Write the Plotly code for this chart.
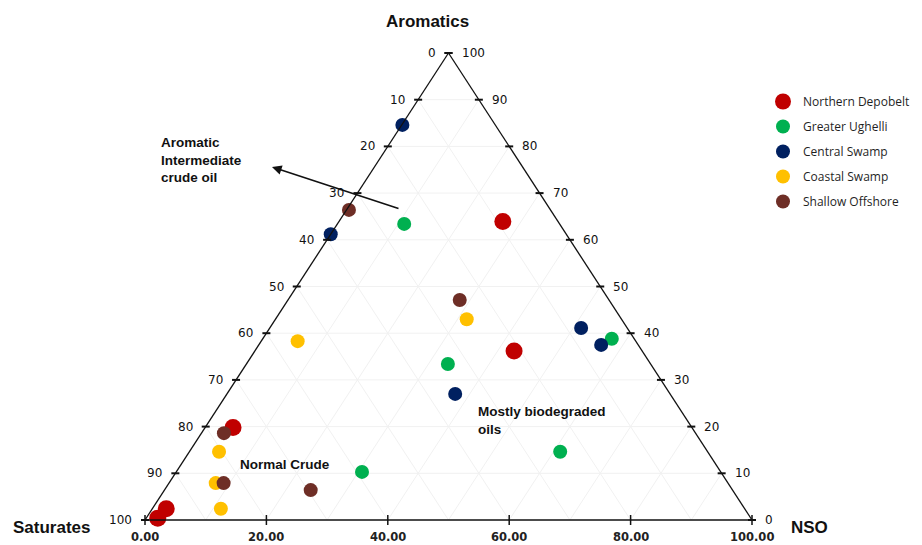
import plotly.graph_objects as go

# ---- data: composition (%) of each oil sample ----
groups = ["Northern Depobelt", "Greater Ughelli", "Central Swamp", "Coastal Swamp", "Shallow Offshore"]

nd_aromatics = [63.9, 36.2, 19.8, 2.4, 0.4]
nd_saturates = [9.1, 21.1, 75.6, 95.3, 97.7]
nd_nso = [27.0, 42.7, 4.6, 2.3, 1.9]

gu_aromatics = [63.4, 33.4, 38.8, 14.6, 10.3]
gu_saturates = [25.6, 33.4, 3.7, 24.3, 59.1]
gu_nso = [11.0, 33.2, 57.5, 61.1, 30.6]

cs_aromatics = [84.6, 61.2, 41.1, 37.5, 27.0]
cs_saturates = [15.3, 38.8, 7.6, 6.1, 35.4]
cs_nso = [0.1, 0.0, 51.3, 56.4, 37.6]

co_aromatics = [38.3, 43.0, 14.6, 7.9, 2.4]
co_saturates = [55.7, 25.5, 80.5, 84.4, 86.3]
co_nso = [6.0, 31.5, 4.9, 7.7, 11.3]

so_aromatics = [66.4, 47.1, 18.6, 7.9, 6.4]
so_saturates = [33.2, 24.6, 77.7, 83.1, 69.5]
so_nso = [0.4, 28.3, 3.7, 9.0, 24.1]

edge_ticks = list(range(0, 101, 10))
bottom_ticks = list(range(0, 101, 20))
grid_levels = list(range(10, 100, 10))

colors = ["#c00000", "#00b050", "#002060", "#ffc000", "#6e2e26"]
sizes = [17, 14, 14, 14, 14]

# ---- geometry (figure pixels) ----
W, H = 922, 545
X0, X1 = 145, 752      # base of triangle in pixels
YB, YT = 520, 53       # base / apex in pixels
sx = (X1 - X0) / 100.0
sy = (YB - YT) / 100.0


def px2x(px):
    return (px - X0) / sx


def py2y(py):
    return (YB - py) / sy


def tern(a, s, n):
    t = a + s + n
    return 100 * (n / t + 0.5 * a / t), 100 * a / t


fig = go.Figure()

series = [
    (nd_aromatics, nd_saturates, nd_nso),
    (gu_aromatics, gu_saturates, gu_nso),
    (cs_aromatics, cs_saturates, cs_nso),
    (co_aromatics, co_saturates, co_nso),
    (so_aromatics, so_saturates, so_nso),
]

for i, (name, (A, S, N)) in enumerate(zip(groups, series)):
    pts = [tern(a, s, n) for a, s, n in zip(A, S, N)]
    fig.add_trace(go.Scatter(
        x=[p[0] for p in pts], y=[p[1] for p in pts],
        mode="markers", name=name, legendgroup=name,
        marker=dict(color=colors[i], size=sizes[i], line=dict(width=0)),
        cliponaxis=False,
        hovertemplate=name + "<extra></extra>",
    ))

shapes = []
# faint grid
for k in grid_levels:
    for (x0, y0), (x1, y1) in [
        ((k / 2, k), (100 - k / 2, k)),
        ((k, 0), (k + (100 - k) / 2, 100 - k)),
        ((100 - k, 0), ((100 - k) / 2, 100 - k)),
    ]:
        shapes.append(dict(type="line", xref="x", yref="y", x0=x0, y0=y0, x1=x1, y1=y1,
                           line=dict(color="#f1f1f1", width=1), layer="below"))
# triangle edges
for (x0, y0), (x1, y1) in [((0, 0), (50, 100)), ((50, 100), (100, 0)), ((0, 0), (100, 0))]:
    shapes.append(dict(type="line", xref="x", yref="y", x0=x0, y0=y0, x1=x1, y1=y1,
                       line=dict(color="#111111", width=1.3)))

annotations = []
tick_font = dict(family="DejaVu Sans", size=12, color="#111111")
dx = 4 / sx
for k in edge_ticks:
    # left edge: Saturates
    xl, yl = (100 - k) / 2, 100 - k
    shapes.append(dict(type="line", xref="x", yref="y", x0=xl - dx, x1=xl + dx, y0=yl, y1=yl,
                       line=dict(color="#111111", width=2)))
    annotations.append(dict(x=xl, y=yl, xref="x", yref="y", text=str(k), showarrow=False,
                            xanchor="right", yanchor="middle", xshift=-11, font=tick_font))
    # right edge: Aromatics
    xr, yr = 100 - k / 2, k
    shapes.append(dict(type="line", xref="x", yref="y", x0=xr - dx, x1=xr + dx, y0=yr, y1=yr,
                       line=dict(color="#111111", width=2)))
    annotations.append(dict(x=xr, y=yr, xref="x", yref="y", text=str(k), showarrow=False,
                            xanchor="left", yanchor="middle", xshift=11, font=tick_font))

dy = 5 / sy
for v in bottom_ticks:
    shapes.append(dict(type="line", xref="x", yref="y", x0=v, x1=v, y0=-dy, y1=dy,
                       line=dict(color="#111111", width=1.5)))
    annotations.append(dict(x=v, y=0, xref="x", yref="y", text="<b>%.2f</b>" % v, showarrow=False,
                            xanchor="center", yanchor="middle", yshift=-17,
                            font=dict(family="DejaVu Sans", size=11.5, color="#222222")))

title_font = dict(family="Arial, Liberation Sans", size=17, color="#111111")
for txt, px, py in [("Aromatics", 427, 21), ("Saturates", 51, 527), ("NSO", 809, 527)]:
    annotations.append(dict(x=px2x(px), y=py2y(py), xref="x", yref="y", text="<b>%s</b>" % txt,
                            showarrow=False, xanchor="center", yanchor="middle", font=title_font))

note_font = dict(family="Arial, Liberation Sans", size=13.5, color="#111111")
annotations.append(dict(x=px2x(159), y=py2y(160), xref="x", yref="y",
                        text="<b>Aromatic<br>Intermediate<br>crude oil</b>", align="left",
                        showarrow=False, xanchor="left", yanchor="middle", font=note_font))
annotations.append(dict(x=px2x(238), y=py2y(464), xref="x", yref="y",
                        text="<b>Normal Crude</b>", align="left",
                        showarrow=False, xanchor="left", yanchor="middle", font=note_font))
annotations.append(dict(x=px2x(476), y=py2y(420), xref="x", yref="y",
                        text="<b>Mostly biodegraded<br>oils</b>", align="left",
                        showarrow=False, xanchor="left", yanchor="middle", font=note_font))
# arrow
annotations.append(dict(x=px2x(272), y=py2y(167), xref="x", yref="y", text="",
                        showarrow=True, ax=128, ay=42, axref="pixel", ayref="pixel",
                        arrowhead=2, arrowsize=1.2, arrowwidth=1.6, arrowcolor="#111111"))

fig.update_layout(
    width=W, height=H,
    margin=dict(l=0, r=0, t=0, b=0),
    paper_bgcolor="white", plot_bgcolor="white",
    xaxis=dict(range=[px2x(0), px2x(W)], visible=False, fixedrange=True),
    yaxis=dict(range=[py2y(H), py2y(0)], visible=False, fixedrange=True),
    shapes=shapes, annotations=annotations,
    showlegend=True,
    legend=dict(x=763 / W, y=1 - 87 / H, xanchor="left", yanchor="top",
                font=dict(family="Open Sans", size=12, color="#1f1f1f"),
                tracegroupgap=6, bgcolor="rgba(0,0,0,0)", itemclick=False),
)

fig.write_html("out.html", config={"displayModeBar": False},
               post_script="document.body.style.margin='0px';document.body.style.padding='0px';"
                           "document.body.style.overflow='hidden';")
